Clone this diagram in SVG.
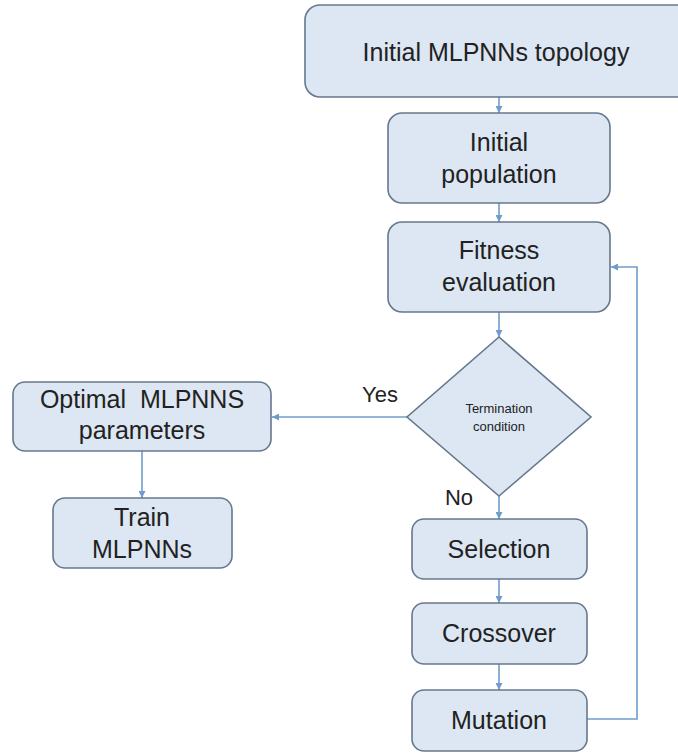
<svg xmlns="http://www.w3.org/2000/svg" width="678" height="753" viewBox="0 0 678 753">
  <style>
    .box { fill: #dce7f3; stroke: #65788c; stroke-width: 1.6; }
    .lbl { font-family: "Liberation Sans", Arial, sans-serif; font-size: 25px; fill: #222222; text-anchor: middle; }
    .small { font-size: 13px; }
    .tag { font-size: 22px; }
    .edge { fill: none; stroke: #6e9dcb; stroke-width: 1.6; }
  </style>
  <defs>
    <marker id="arrow" viewBox="0 0 10 10" refX="10" refY="5" markerWidth="7" markerHeight="7" markerUnits="userSpaceOnUse" orient="auto">
      <path d="M0,0 L10,5 L0,10 Z" fill="#6e9dcb"/>
    </marker>
  </defs>
  <rect width="678" height="753" fill="#ffffff"/>

  <g id="connectors">
    <line class="edge" x1="499" y1="97" x2="499" y2="113" marker-end="url(#arrow)"/>
    <line class="edge" x1="499" y1="203" x2="499" y2="222" marker-end="url(#arrow)"/>
    <line class="edge" x1="499" y1="312" x2="499" y2="337" marker-end="url(#arrow)"/>
    <line class="edge" x1="407" y1="417" x2="272" y2="417" marker-end="url(#arrow)"/>
    <line class="edge" x1="142" y1="451" x2="142" y2="498" marker-end="url(#arrow)"/>
    <line class="edge" x1="499" y1="496" x2="499" y2="519" marker-end="url(#arrow)"/>
    <line class="edge" x1="499" y1="579" x2="499" y2="603" marker-end="url(#arrow)"/>
    <line class="edge" x1="499" y1="664" x2="499" y2="690" marker-end="url(#arrow)"/>
    <polyline class="edge" points="587,719 637,719 637,267 611,267" marker-end="url(#arrow)"/>
    <text class="lbl tag" x="380" y="402">Yes</text>
    <text class="lbl tag" x="459" y="505">No</text>
  </g>

  <g id="topology">
    <rect class="box" x="305" y="5" width="390" height="92" rx="15"/>
    <text class="lbl" x="496" y="61">Initial MLPNNs topology</text>
  </g>

  <g id="population">
    <rect class="box" x="388" y="113" width="222" height="90" rx="14"/>
    <text class="lbl" x="499" y="151">Initial</text>
    <text class="lbl" x="499" y="183">population</text>
  </g>

  <g id="fitness">
    <rect class="box" x="388" y="222" width="222" height="90" rx="14"/>
    <text class="lbl" x="499" y="259">Fitness</text>
    <text class="lbl" x="499" y="291">evaluation</text>
  </g>

  <g id="termination">
    <polygon class="box" points="499,337 591,417 499,496 407,417"/>
    <text class="lbl small" x="499" y="413">Termination</text>
    <text class="lbl small" x="499" y="431">condition</text>
  </g>

  <g id="optimal">
    <rect class="box" x="13" y="382" width="258" height="69" rx="12"/>
    <text class="lbl" x="142" y="408" font-size="24">Optimal&#160; MLPNNS</text>
    <text class="lbl" x="142" y="439">parameters</text>
  </g>

  <g id="train">
    <rect class="box" x="53" y="498" width="179" height="70" rx="12"/>
    <text class="lbl" x="142" y="526">Train</text>
    <text class="lbl" x="142" y="558">MLPNNs</text>
  </g>

  <g id="selection">
    <rect class="box" x="412" y="519" width="175" height="60" rx="12"/>
    <text class="lbl" x="499" y="558">Selection</text>
  </g>

  <g id="crossover">
    <rect class="box" x="412" y="603" width="175" height="61" rx="12"/>
    <text class="lbl" x="499" y="642">Crossover</text>
  </g>

  <g id="mutation">
    <rect class="box" x="412" y="690" width="175" height="61" rx="12"/>
    <text class="lbl" x="499" y="729">Mutation</text>
  </g>
</svg>
